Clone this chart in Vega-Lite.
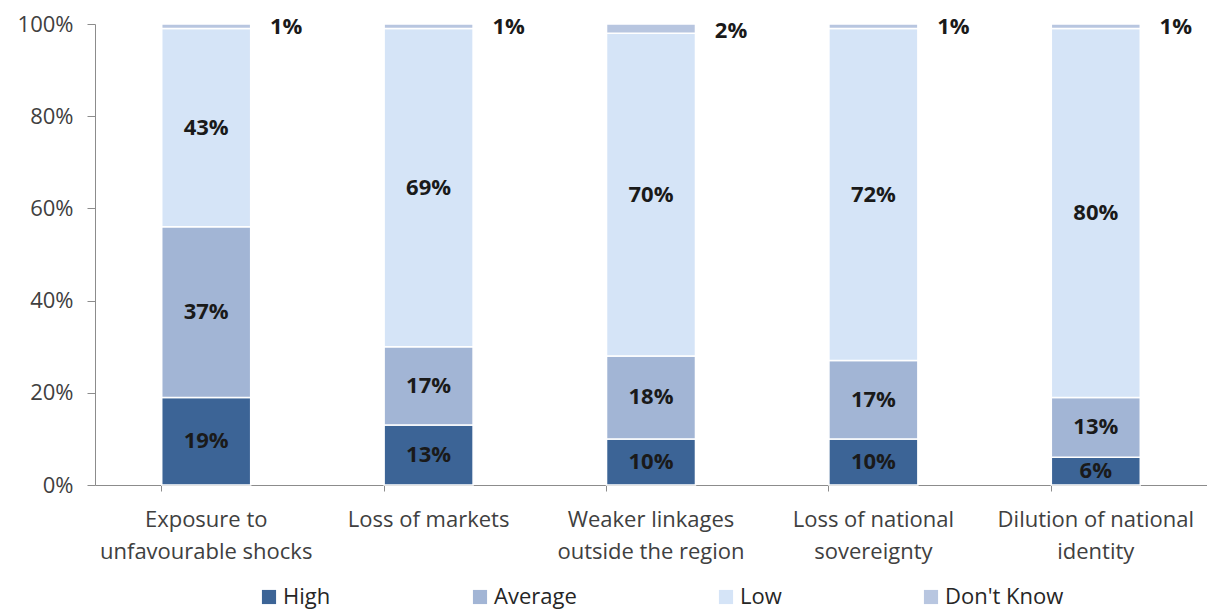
{
  "$schema": "https://vega.github.io/schema/vega-lite/v6.json",
  "autosize": "none",
  "width": 1112,
  "height": 461,
  "padding": {"left": 95, "top": 24, "right": 0, "bottom": 129},
  "background": "white",
  "config": {
    "view": {"stroke": null},
    "font": "Open Sans"
  },
  "data": {
    "values": [
      {"category": "Exposure to unfavourable shocks", "level": "High", "k": 1, "value": 0.19},
      {"category": "Exposure to unfavourable shocks", "level": "Average", "k": 2, "value": 0.37},
      {"category": "Exposure to unfavourable shocks", "level": "Low", "k": 3, "value": 0.43},
      {"category": "Exposure to unfavourable shocks", "level": "Don't Know", "k": 4, "value": 0.01},
      {"category": "Loss of markets", "level": "High", "k": 1, "value": 0.13},
      {"category": "Loss of markets", "level": "Average", "k": 2, "value": 0.17},
      {"category": "Loss of markets", "level": "Low", "k": 3, "value": 0.69},
      {"category": "Loss of markets", "level": "Don't Know", "k": 4, "value": 0.01},
      {"category": "Weaker linkages outside the region", "level": "High", "k": 1, "value": 0.10},
      {"category": "Weaker linkages outside the region", "level": "Average", "k": 2, "value": 0.18},
      {"category": "Weaker linkages outside the region", "level": "Low", "k": 3, "value": 0.70},
      {"category": "Weaker linkages outside the region", "level": "Don't Know", "k": 4, "value": 0.02},
      {"category": "Loss of national sovereignty", "level": "High", "k": 1, "value": 0.10},
      {"category": "Loss of national sovereignty", "level": "Average", "k": 2, "value": 0.17},
      {"category": "Loss of national sovereignty", "level": "Low", "k": 3, "value": 0.72},
      {"category": "Loss of national sovereignty", "level": "Don't Know", "k": 4, "value": 0.01},
      {"category": "Dilution of national identity", "level": "High", "k": 1, "value": 0.06},
      {"category": "Dilution of national identity", "level": "Average", "k": 2, "value": 0.13},
      {"category": "Dilution of national identity", "level": "Low", "k": 3, "value": 0.80},
      {"category": "Dilution of national identity", "level": "Don't Know", "k": 4, "value": 0.01}
    ]
  },
  "encoding": {
    "x": {
      "field": "category",
      "type": "nominal",
      "sort": null,
      "scale": {"paddingInner": 0.6, "paddingOuter": 0.3},
      "axis": {
        "title": null,
        "labelAngle": 0,
        "labelFontSize": 22,
        "labelColor": "#404040",
        "labelLineHeight": 32,
        "labelPadding": 18,
        "labelBaseline": "top",
        "labelLimit": 300,
        "domainColor": "#8c8c8c",
        "tickColor": "#8c8c8c",
        "tickSize": 6,
        "bandPosition": 0,
        "labelExpr": "datum.label == 'Exposure to unfavourable shocks' ? ['Exposure to', 'unfavourable shocks'] : datum.label == 'Weaker linkages outside the region' ? ['Weaker linkages', 'outside the region'] : datum.label == 'Loss of national sovereignty' ? ['Loss of national', 'sovereignty'] : datum.label == 'Dilution of national identity' ? ['Dilution of national', 'identity'] : datum.label"
      }
    },
    "y": {
      "field": "value",
      "type": "quantitative",
      "stack": "zero",
      "scale": {"domain": [0, 1], "nice": false},
      "axis": {
        "title": null,
        "values": [0, 0.2, 0.4, 0.6, 0.8, 1],
        "format": ".0%",
        "labelFontSize": 22,
        "labelColor": "#404040",
        "labelPadding": 14,
        "grid": false,
        "domainColor": "#8c8c8c",
        "tickColor": "#8c8c8c",
        "tickSize": 8
      }
    },
    "order": {"field": "k", "type": "quantitative"}
  },
  "layer": [
    {
      "mark": {"type": "bar", "stroke": "white", "strokeWidth": 1.5},
      "encoding": {
        "color": {
          "field": "level",
          "type": "nominal",
          "sort": ["High", "Average", "Low", "Don't Know"],
          "scale": {
            "domain": ["High", "Average", "Low", "Don't Know"],
            "range": ["#3c6496", "#a2b5d5", "#d5e4f7", "#b8c6e0"]
          },
          "legend": {
            "title": null,
            "orient": "none",
            "direction": "horizontal",
            "legendX": 163,
            "legendY": 562,
            "symbolType": "square",
            "symbolSize": 200,
            "symbolStrokeWidth": 0,
            "labelFontSize": 22,
            "labelColor": "#262626",
            "columnPadding": 138,
            "labelOffset": 3
          }
        }
      }
    },
    {
      "transform": [{"filter": "datum.level != \"Don't Know\""}],
      "mark": {"type": "text", "fontWeight": "bold", "fontSize": 22, "color": "#1a1a1a"},
      "encoding": {
        "y": {"field": "value", "type": "quantitative", "stack": "zero", "bandPosition": 0.5},
        "text": {"field": "value", "type": "quantitative", "format": ".0%"}
      }
    },
    {
      "transform": [
        {"stack": "value", "groupby": ["category"], "sort": [{"field": "k"}], "as": ["v0", "v1"]},
        {"filter": "datum.level == \"Don't Know\""}
      ],
      "mark": {"type": "text", "fontWeight": "bold", "fontSize": 22, "color": "#1a1a1a", "dx": 80, "dy": -2, "baseline": "middle"},
      "encoding": {
        "y": {"field": "v0", "type": "quantitative"},
        "text": {"field": "value", "type": "quantitative", "format": ".0%"}
      }
    }
  ]
}
